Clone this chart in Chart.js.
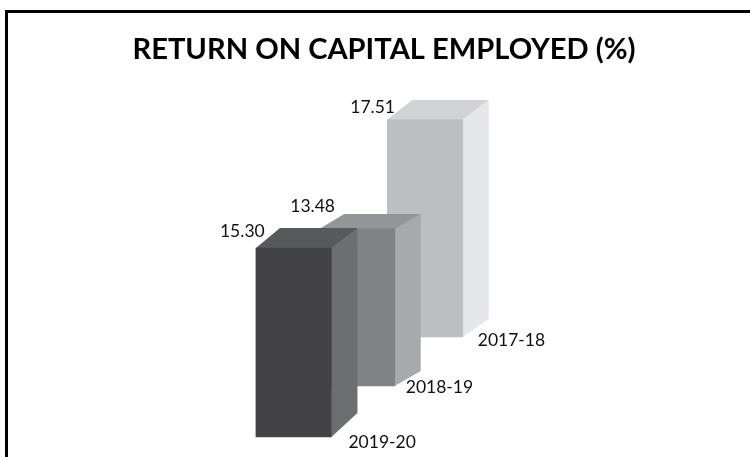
<!DOCTYPE html>
<html lang="en">
<head>
  <meta charset="UTF-8" />
  <title>Return on Capital Employed</title>
  <script src="https://cdn.jsdelivr.net/npm/chart.js"></script>
  <style>
    html, body { margin: 0; height: 100%; background: #fff; overflow: hidden; }
    #frame { position: absolute; left: 5px; top: 10px; width: 760px; height: 460px; border-left: 3px solid #000; border-top: 3px solid #000; }
    #chart { position: absolute; left: 18px; top: 0; }
  </style>
</head>
<body>
  <div id="frame"></div>
  <canvas id="chart" width="732" height="457"></canvas>

  <script>
    // front bar first: Chart.js paints dataset 0 on top
    const categories = ['2019-20', '2018-19', '2017-18'];
    const roce = [15.30, 13.48, 17.51];
    const depthSlots = [0, 0.964, 2];

    const FONT = 'Lato, "Open Sans", sans-serif';
    const AREA_BOTTOM = 457;
    const AREA_HEIGHT = 376;
    const AREA_WIDTH = 732;
    const SLOT_PX = 65.65;
    const SLOT0_PX = 275.7;

    // the picture is a fake 3D one, every bar has its own baseline and scale
    const looks = [
      { front: '#434345', top: '#58595b', side: '#6d6e71', baseline: 437, pxPerUnit: 12.35, dxL: 24, dxR: 26, dyTop: 20, dyBot: 24, value: [9, -17], tick: [17, 4] },
      { front: '#808285', top: '#939598', side: '#a7a9ac', baseline: 386, pxPerUnit: 11.65, dxL: 25, dxR: 26, dyTop: 15, dyBot: 15, value: [16, -23], tick: [11, 0] },
      { front: '#bcbec0', top: '#d1d3d4', side: '#e6e7e8', baseline: 337, pxPerUnit: 12.42, dxL: 25, dxR: 26, dyTop: 19.5, dyBot: 18, value: [8, -12], tick: [15, 2] }
    ];

    function barAxis(look) {
      const min = -(AREA_BOTTOM - look.baseline) / look.pxPerUnit;
      return { display: false, min, max: min + AREA_HEIGHT / look.pxPerUnit };
    }

    function poly(ctx, color, pts) {
      ctx.fillStyle = color;
      ctx.beginPath();
      pts.forEach((p, i) => i ? ctx.lineTo(p[0], p[1]) : ctx.moveTo(p[0], p[1]));
      ctx.closePath();
      ctx.fill();
    }

    const bar3d = {
      id: 'bar3d',
      beforeDatasetDraw(chart, args) {
        const look = looks[args.index];
        const bar = chart.getDatasetMeta(args.index).data[0];
        const l = bar.x - bar.width / 2, r = bar.x + bar.width / 2;
        const ctx = chart.ctx;
        poly(ctx, look.side, [[r, bar.y], [r + look.dxR, bar.y - look.dyTop], [r + look.dxR, bar.base - look.dyBot], [r, bar.base]]);
        poly(ctx, look.top, [[l, bar.y], [l + look.dxL, bar.y - look.dyTop], [r + look.dxR, bar.y - look.dyTop], [r, bar.y]]);
      },
      afterDraw(chart) {
        const ctx = chart.ctx;
        ctx.save();
        ctx.fillStyle = '#111';
        ctx.font = '17.5px ' + FONT;
        ctx.textBaseline = 'middle';
        ctx.textAlign = 'left';
        categories.forEach((name, i) => {
          const look = looks[i];
          const bar = chart.getDatasetMeta(i).data[0];
          const l = bar.x - bar.width / 2, r = bar.x + bar.width / 2;
          ctx.fillText(roce[i].toFixed(2), l + look.value[0] - 45, bar.y + look.value[1]);
          ctx.fillText(name, r + look.tick[0], bar.base + look.tick[1] + 1);
        });
        ctx.restore();
      }
    };

    const xMin = -SLOT0_PX / SLOT_PX;
    const scales = {
      x: { type: 'linear', display: false, min: xMin, max: xMin + AREA_WIDTH / SLOT_PX, offset: false }
    };
    looks.forEach((look, i) => { scales['y' + i] = barAxis(look); });

    new Chart(document.getElementById('chart'), {
      type: 'bar',
      data: {
        datasets: categories.map((name, i) => ({
          label: name,
          data: [{ x: depthSlots[i], y: roce[i] }],
          yAxisID: 'y' + i,
          backgroundColor: looks[i].front,
          barThickness: 75.5,
          grouped: false,
          clip: false
        }))
      },
      options: {
        responsive: false,
        animation: false,
        scales,
        plugins: {
          legend: { display: false },
          tooltip: { enabled: false },
          title: {
            display: true,
            text: 'RETURN ON CAPITAL EMPLOYED (%)',
            color: '#000',
            font: { family: FONT, size: 29.1, weight: 'bold', lineHeight: 1.25 },
            padding: { top: 31, bottom: 13.6 }
          }
        }
      },
      plugins: [bar3d]
    });
  </script>
</body>
</html>
